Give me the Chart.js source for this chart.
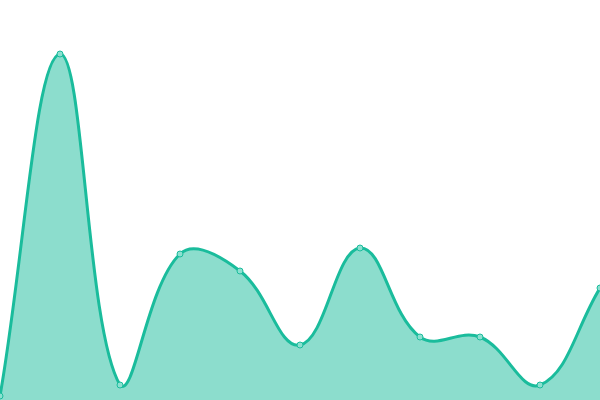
<!DOCTYPE html>
<html>
<head>
<meta charset="utf-8">
<script src="https://cdn.jsdelivr.net/npm/chart.js@4"></script>
<style>
    html, body { margin: 0; padding: 0; background: #fff; }
    #wrap { width: 600px; height: 400px; }
</style>
</head>
<body>
<div id="wrap"><canvas id="area-chart"></canvas></div>
<script>
// Chart data
const labels = ['1', '2', '3', '4', '5', '6', '7', '8', '9', '10', '11'];
const values = [4, 346, 15, 146, 129, 55, 152, 63, 63, 15, 112];
const yMin = 0;
const yMax = 400;

const ctx = document.getElementById('area-chart');

new Chart(ctx, {
    type: 'line',
    data: {
        labels: labels,
        datasets: [{
            data: values,
            fill: 'origin',
            tension: 0.4,
            borderColor: 'rgba(26, 188, 156, 1)',
            backgroundColor: 'rgba(26, 188, 156, 0.5)',
            borderWidth: 3,
            pointRadius: 3,
            pointBorderWidth: 1,
            pointBackgroundColor: 'rgba(140, 224, 208, 1)',
            pointBorderColor: 'rgba(26, 188, 156, 1)'
        }]
    },
    options: {
        responsive: true,
        maintainAspectRatio: false,
        animation: false,
        layout: { padding: 0, autoPadding: false },
        plugins: {
            legend: { display: false },
            tooltip: { enabled: false }
        },
        scales: {
            x: { display: false },
            y: { display: false, min: yMin, max: yMax }
        }
    }
});
</script>
</body>
</html>
